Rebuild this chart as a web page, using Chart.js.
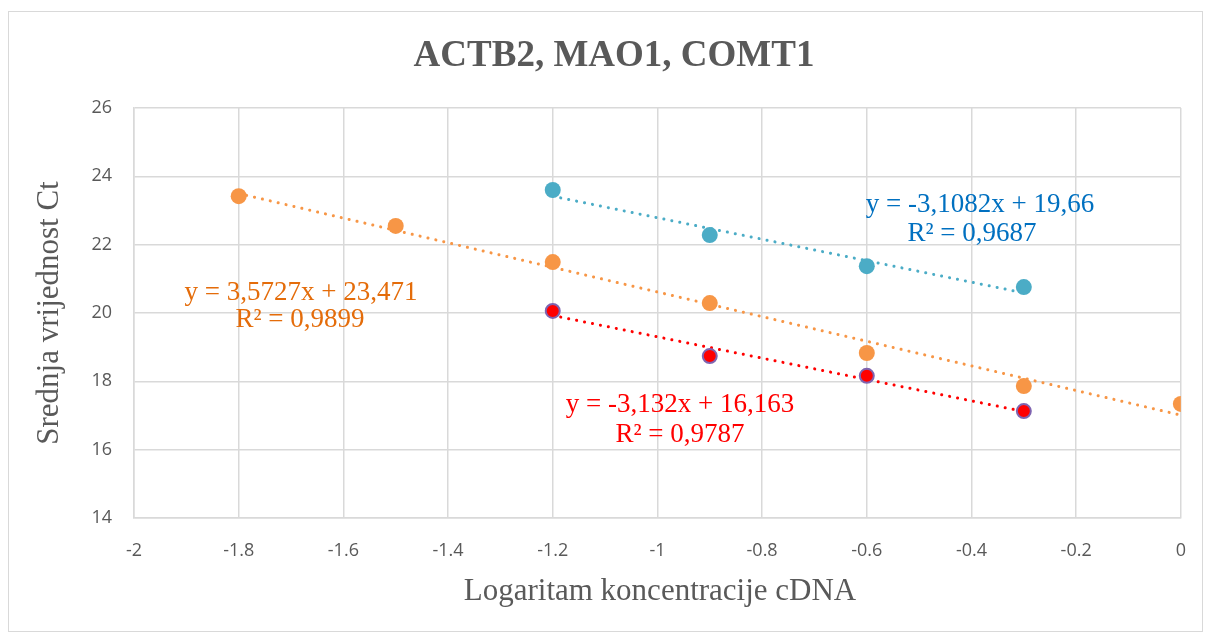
<!DOCTYPE html>
<html>
<head>
<meta charset="utf-8">
<script src="https://cdn.jsdelivr.net/npm/chart.js@4"></script>
<style>
    html, body { margin: 0; padding: 0; background: #fff; }
    #wrap { width: 1208px; height: 635px; position: relative; }
</style>
</head>
<body>
<div id="wrap"><canvas id="ctChart" width="1208" height="635"></canvas></div>
<script>
// podaci procitani sa grafika
var titleText = 'ACTB2, MAO1, COMT1';
var xAxisTitle = 'Logaritam koncentracije cDNA';
var yAxisTitle = 'Srednja vrijednost Ct';

var xTicks = [-2, -1.8, -1.6, -1.4, -1.2, -1, -0.8, -0.6, -0.4, -0.2, 0];
var yTicks = [14, 16, 18, 20, 22, 24, 26];

var actbX = [-1.2, -0.9, -0.6, -0.3];
var actbY = [23.6, 22.28, 21.37, 20.76];

var maoX = [-1.8, -1.5, -1.2, -0.9, -0.6, -0.3, 0];
var maoY = [23.42, 22.55, 21.49, 20.29, 18.83, 17.86, 17.34];

var comtX = [-1.2, -0.9, -0.6, -0.3];
var comtY = [20.06, 18.74, 18.16, 17.13];

var actbEq = ['y = -3,1082x + 19,66', 'R² = 0,9687'];
var maoEq = ['y = 3,5727x + 23,471', 'R² = 0,9899'];
var comtEq = ['y = -3,132x + 16,163', 'R² = 0,9787'];

// linearni trend (najmanji kvadrati)
function trendLine(xs, ys) {
    var n = xs.length, sx = 0, sy = 0, sxx = 0, sxy = 0;
    for (var i = 0; i < n; i++) {
        sx += xs[i]; sy += ys[i]; sxx += xs[i] * xs[i]; sxy += xs[i] * ys[i];
    }
    var k = (n * sxy - sx * sy) / (n * sxx - sx * sx);
    var b = (sy - k * sx) / n;
    var x0 = Math.min.apply(null, xs), x1 = Math.max.apply(null, xs);
    return [{x: x0, y: k * x0 + b}, {x: x1, y: k * x1 + b}];
}

function toPoints(xs, ys) {
    return xs.map(function(x, i) { return {x: x, y: ys[i]}; });
}

var BLUE = '#4BACC6', ORANGE = '#F79646', RED = '#FF0000';

function trendDataset(xs, ys, color) {
    return {
        type: 'line',
        data: trendLine(xs, ys),
        borderColor: color,
        borderWidth: 3,
        borderDash: [0.1, 8],
        borderCapStyle: 'round',
        pointRadius: 0,
        fill: false,
        order: 2
    };
}

// tekst: naslov, nazivi osa, jednacine, okvir
var textPlugin = {
    id: 'textPlugin',
    afterDraw: function(chart) {
        var c = chart.ctx;
        c.save();
        c.strokeStyle = '#D9D9D9';
        c.lineWidth = 1;
        c.strokeRect(8.5, 11.5, 1194, 620);

        c.fillStyle = '#595959';
        c.textAlign = 'center';
        c.textBaseline = 'middle';
        c.font = 'bold 37px "Liberation Serif"';
        c.fillText(titleText, 614, 56);

        c.font = '31px "Liberation Serif"';
        c.fillText(xAxisTitle, 660, 592);
        c.save();
        c.translate(50, 313);
        c.rotate(-Math.PI / 2);
        c.fillText(yAxisTitle, 0, 0);
        c.restore();

        c.font = '27px "Liberation Serif"';
        function eq(lines, color, x1, y1, x2, y2) {
            c.fillStyle = color;
            c.fillText(lines[0], x1, y1);
            c.fillText(lines[1], x2, y2);
        }
        eq(actbEq, '#0070C0', 980, 205, 972, 234);
        eq(maoEq, '#E46C0A', 301, 293, 300, 320);
        eq(comtEq, '#FF0000', 680, 405, 680, 435);
        c.restore();
    }
};

var ctx = document.getElementById('ctChart').getContext('2d');
var chart = new Chart(ctx, {
    type: 'scatter',
    data: {
        datasets: [
            {
                data: toPoints(actbX, actbY),
                backgroundColor: BLUE, borderColor: BLUE,
                pointRadius: 8, borderWidth: 0, order: 1
            },
            {
                data: toPoints(maoX, maoY),
                backgroundColor: ORANGE, borderColor: ORANGE,
                pointRadius: 8, borderWidth: 0, order: 1
            },
            {
                data: toPoints(comtX, comtY),
                backgroundColor: RED, borderColor: '#7F64B0',
                pointRadius: 7, borderWidth: 2, order: 1
            },
            trendDataset(actbX, actbY, BLUE),
            trendDataset(maoX, maoY, ORANGE),
            trendDataset(comtX, comtY, RED)
        ]
    },
    options: {
        responsive: false,
        animation: false,
        layout: { padding: { left: 0, top: 108, right: 20, bottom: 0 } },
        plugins: {
            legend: { display: false },
            tooltip: { enabled: false }
        },
        scales: {
            x: {
                type: 'linear',
                min: xTicks[0], max: xTicks[xTicks.length - 1],
                afterBuildTicks: function(scale) {
                    scale.ticks = xTicks.map(function(v) { return {value: v}; });
                },
                afterFit: function(scale) { scale.height = 117; },
                grid: { color: '#D9D9D9', lineWidth: 1.5, drawTicks: false },
                border: { color: '#D9D9D9', width: 1.5 },
                ticks: {
                    padding: 22,
                    color: '#595959',
                    font: { family: '"Open Sans"', size: 18 },
                    maxRotation: 0,
                    callback: function(v) { return String(Number(v.toFixed(1))); }
                }
            },
            y: {
                min: yTicks[0], max: yTicks[yTicks.length - 1],
                afterBuildTicks: function(scale) {
                    scale.ticks = yTicks.map(function(v) { return {value: v}; });
                },
                afterFit: function(scale) { scale.width = 134; },
                grid: { color: '#D9D9D9', lineWidth: 1.5, drawTicks: false },
                border: { color: '#D9D9D9', width: 1.5 },
                ticks: {
                    padding: 22,
                    color: '#595959',
                    font: { family: '"Open Sans"', size: 18 }
                }
            }
        }
    },
    plugins: [textPlugin]
});
</script>
</body>
</html>
